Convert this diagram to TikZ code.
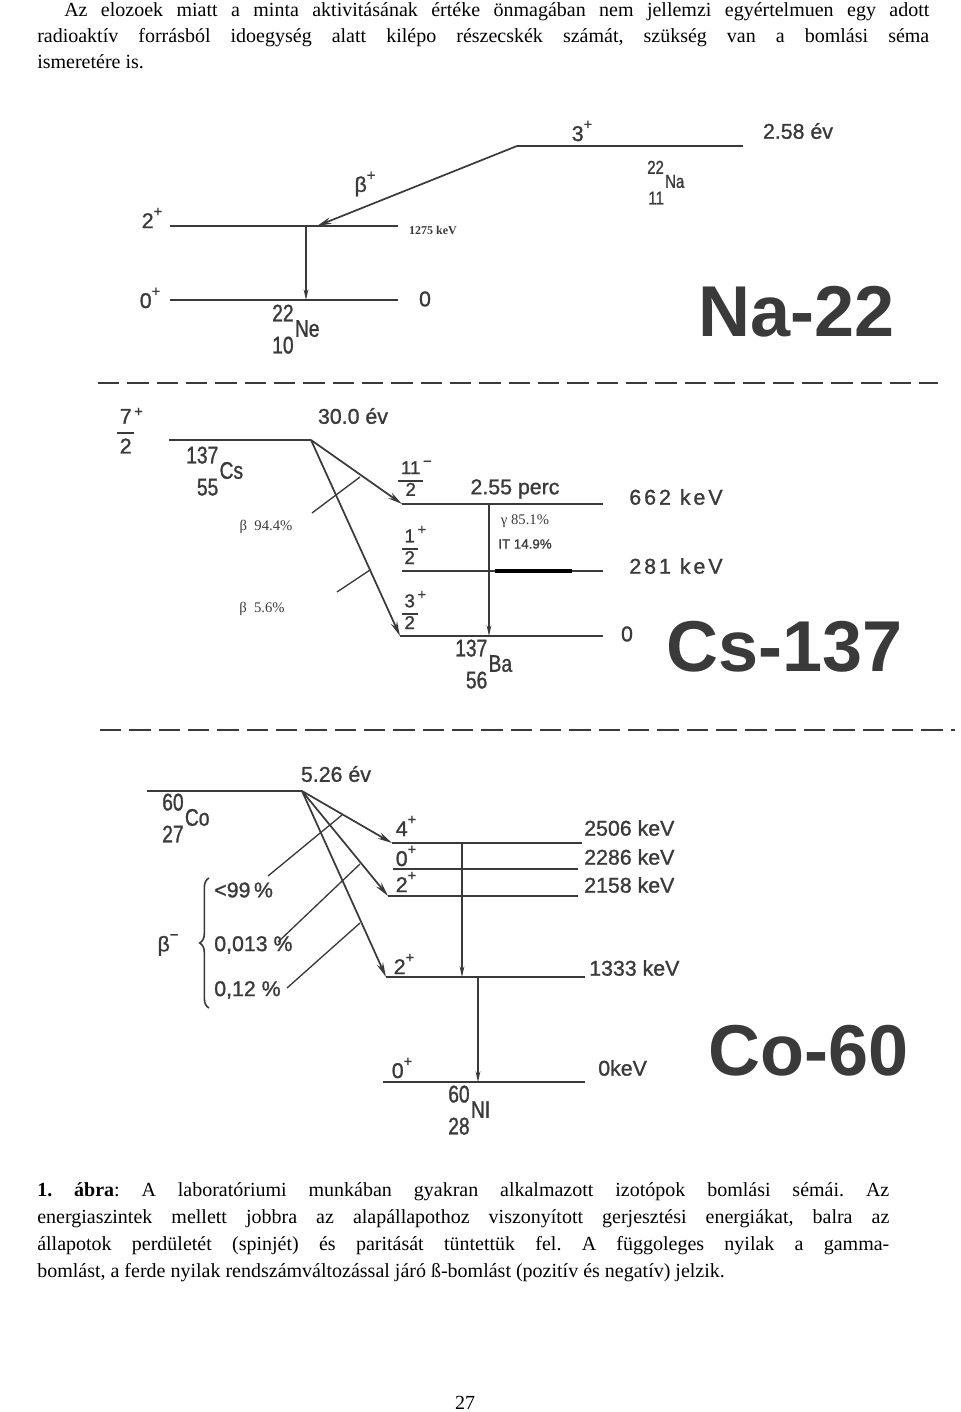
\documentclass[tikz,border=0pt]{standalone}
\usepackage{fontspec}
\setmainfont{Liberation Serif}
\newfontfamily\drawfont[FakeBold=1.2]{Liberation Sans}
\newfontfamily\narrowfont[FakeStretch=0.8,FakeBold=1.2]{Liberation Sans}
\newfontfamily\namefont{Liberation Sans}
\usetikzlibrary{arrows.meta,positioning,decorations.pathreplacing}
\definecolor{ink}{HTML}{3A3A3A}
\newcommand\parity[1]{\raisebox{0.55em}{\fontsize{11pt}{11pt}\selectfont #1}}
\newcommand\nuclide[3]{\begin{tabular}{@{}r@{}}#1\\#2\end{tabular}\kern1pt#3}
\newcommand\spinfrac[3]{{\setlength\arrayrulewidth{1.3pt}\begin{tabular}{@{\hspace{2pt}}c@{\hspace{2pt}}}#1\\\hline #2\end{tabular}}\raisebox{1.05em}{\fontsize{11pt}{11pt}\selectfont #3}}

\begin{document}
\begin{tikzpicture}[x=0.75pt,y=-0.75pt,
    level/.style={draw=ink, line width=1.5pt},
    beta/.style={draw=ink, line width=1.3pt, -{Stealth[length=11pt,width=5pt]}},
    gamma/.style={draw=ink, line width=0.9pt, -{Stealth[length=8pt,width=3.5pt]}},
    leader/.style={draw=ink, line width=1pt},
    sepline/.style={draw=ink, line width=1.5pt, dash pattern=on 16pt off 6pt},
    lab/.style={text=ink, font=\drawfont\fontsize{16pt}{19pt}\selectfont, inner sep=0pt},
    fraclab/.style={text=ink, font=\drawfont\fontsize{14pt}{15pt}\selectfont, inner sep=0pt},
    nuc/.style={text=ink, font=\narrowfont\fontsize{18pt}{24pt}\selectfont, inner sep=0pt, anchor=west},
    small/.style={text=ink, font=\fontsize{11pt}{13pt}\selectfont, inner sep=0pt},
    bigname/.style={text=ink, font=\namefont\bfseries\fontsize{54pt}{60pt}\selectfont, inner sep=0pt},
    body/.style={text=black, font=\fontsize{15pt}{19pt}\selectfont\frenchspacing, anchor=base west, inner sep=0pt}
]
    \useasboundingbox (0,0) rectangle (960,1412);

    % page text
    \node[body] (p1) at (64,17) {\makebox[648.75pt][s]{Az elozoek miatt a minta aktivitásának értéke önmagában nem jellemzi egyértelmuen egy adott}};
    \node[body] (p2) at (37,43) {\makebox[669pt][s]{radioaktív forrásból idoegység alatt kilépo részecskék számát, szükség van a bomlási séma}};
    \node[body] (p3) at (37,69) {ismeretére is.};

    % Na-22
    \coordinate (naL) at (517,146);
    \coordinate (naR) at (743,146);
    \coordinate (ne2L) at (170,226);
    \coordinate (ne2R) at (398,226);
    \coordinate (ne2b) at (317,226);
    \coordinate (ne2g) at (306,226);
    \coordinate (ne0L) at (170,300);
    \coordinate (ne0R) at (398,300);
    \coordinate (ne0g) at (306,300);
    \draw[level] (naL) -- (naR);
    \draw[beta] (naL) -- (ne2b);
    \draw[level] (ne2L) -- (ne2R);
    \draw[level] (ne0L) -- (ne0R);
    \draw[gamma] (ne2g) -- (ne0g);
    \node[lab] (na3) at (582,131) {3\parity{+}};
    \node[lab] (naE) at (798,131) {2.58 év};
    \node[nuc, font=\narrowfont\fontsize{14pt}{23pt}\selectfont] (naNuc) at (647,183) {\nuclide{22}{11}{Na}};
    \node[lab] (bplus) at (365,184) {β\parity{+}};
    \node[lab] (ne2s) at (152,218) {2\parity{+}};
    \node[small, font=\bfseries\fontsize{9pt}{11pt}\selectfont] (ne2E) at (433,230) {1275 keV};
    \node[lab] (ne0s) at (150,298) {0\parity{+}};
    \node[lab] (ne0E) at (425,299) {0};
    \node[nuc] (neNuc) at (272,331) {\nuclide{22}{10}{Ne}};
    \node[bigname] (naName) at (797,312) {Na-22};

    \coordinate (s1L) at (98,383);
    \coordinate (s1R) at (938,383);
    \draw[sepline] (s1L) -- (s1R);

    % Cs-137
    \coordinate (csL) at (169,440);
    \coordinate (csR) at (311,440);
    \coordinate (ba11L) at (402,504);
    \coordinate (ba11R) at (603,504);
    \coordinate (ba1L) at (402,571);
    \coordinate (ba1R) at (603,571);
    \coordinate (ba0L) at (400,636);
    \coordinate (ba0R) at (603,636);
    \coordinate (thickL) at (495,571);
    \coordinate (thickR) at (572,571);
    \coordinate (baG1) at (489,504);
    \coordinate (baG0) at (489,636);
    \coordinate (t1a) at (312,513);
    \coordinate (t1b) at (360,477);
    \coordinate (t2a) at (337,592);
    \coordinate (t2b) at (370,570);
    \draw[level] (csL) -- (csR);
    \draw[beta] (csR) -- (ba11L);
    \draw[beta] (csR) -- (ba0L);
    \draw[level] (ba11L) -- (ba11R);
    \draw[level] (ba1L) -- (ba1R);
    \draw[level] (ba0L) -- (ba0R);
    \draw[line width=3pt, black] (thickL) -- (thickR);
    \draw[gamma] (baG1) -- (baG0);
    \draw[leader] (t1a) -- (t1b);
    \draw[leader] (t2a) -- (t2b);
    \node[lab, font=\drawfont\fontsize{16pt}{21pt}\selectfont] (cs7) at (130,433) {\spinfrac{7}{2}{+}};
    \node[lab] (csE) at (353,416) {30.0 év};
    \node[nuc] (csNuc) at (186,473) {\nuclide{137}{55}{Cs}};
    \node[fraclab] (ba11s) at (415,481) {\spinfrac{11}{2}{−}};
    \node[lab] (ba11t) at (515,489) {2.55 perc};
    \node[lab, font=\drawfont\fontsize{16pt}{19pt}\selectfont\addfontfeature{LetterSpace=14}] (ba11E) at (676,497) {662 keV};
    \node[fraclab] (ba1s) at (414,548) {\spinfrac{1}{2}{+}};
    \node[lab, font=\drawfont\fontsize{16pt}{19pt}\selectfont\addfontfeature{LetterSpace=14}] (ba1E) at (676,566) {281 keV};
    \node[fraclab] (ba0s) at (414,613) {\spinfrac{3}{2}{+}};
    \node[lab] (ba0E) at (627,634) {0};
    \node[small] (gam) at (525,521) {γ 85.1\%};
    \node[small, font=\drawfont\fontsize{10pt}{12pt}\selectfont] (itr) at (525,544) {IT 14.9\%};
    \node[small] (b944) at (266,527) {β\ \ 94.4\%};
    \node[small] (b56) at (262,609) {β\ \ 5.6\%};
    \node[nuc] (baNuc) at (455,666) {\nuclide{137}{56}{Ba}};
    \node[bigname] (csName) at (785,647) {Cs-137};

    \coordinate (s2L) at (100,730);
    \coordinate (s2R) at (955,730);
    \draw[sepline] (s2L) -- (s2R);

    % Co-60
    \coordinate (coL) at (147,791);
    \coordinate (coR) at (302,791);
    \coordinate (ni4L) at (392,843);
    \coordinate (ni4R) at (582,843);
    \coordinate (ni0aL) at (393,869);
    \coordinate (ni0aR) at (578,869);
    \coordinate (ni2aL) at (388,896);
    \coordinate (ni2aR) at (578,896);
    \coordinate (ni2bL) at (386,977);
    \coordinate (ni2bR) at (585,977);
    \coordinate (ni0L) at (383,1082);
    \coordinate (ni0R) at (585,1082);
    \coordinate (g1a) at (462,843);
    \coordinate (g1b) at (462,977);
    \coordinate (g2a) at (478,977);
    \coordinate (g2b) at (478,1082);
    \coordinate (l1a) at (268,876);
    \coordinate (l1b) at (342,815);
    \coordinate (l2a) at (278,942);
    \coordinate (l2b) at (360,864);
    \coordinate (l3a) at (287,988);
    \coordinate (l3b) at (360,923);
    \coordinate (brB) at (209,1008);
    \coordinate (brT) at (209,878);
    \draw[level] (coL) -- (coR);
    \draw[beta] (coR) -- (ni4L);
    \draw[beta] (coR) -- (ni2aL);
    \draw[beta] (coR) -- (ni2bL);
    \draw[level] (ni4L) -- (ni4R);
    \draw[level] (ni0aL) -- (ni0aR);
    \draw[level] (ni2aL) -- (ni2aR);
    \draw[level] (ni2bL) -- (ni2bR);
    \draw[level] (ni0L) -- (ni0R);
    \draw[gamma] (g1a) -- (g1b);
    \draw[gamma] (g2a) -- (g2b);
    \draw[leader] (l1a) -- (l1b);
    \draw[leader] (l2a) -- (l2b);
    \draw[leader] (l3a) -- (l3b);
    \draw[draw=ink, line width=1.2pt, decorate, decoration={brace, amplitude=7pt}] (brB) -- (brT);
    \node[lab] (coE) at (336,774) {5.26 év};
    \node[nuc] (coNuc) at (162,820) {\nuclide{60}{27}{Co}};
    \node[lab] (ni4s) at (406,826) {4\parity{+}};
    \node[lab] (ni0as) at (406,856) {0\parity{+}};
    \node[lab] (ni2as) at (406,882) {2\parity{+}};
    \node[lab] (ni2bs) at (404,964) {2\parity{+}};
    \node[lab] (ni0s) at (402,1068) {0\parity{+}};
    \node[lab, anchor=west] (ni4E) at (584,828) {2506 keV};
    \node[lab, anchor=west] (ni0aE) at (584,857) {2286 keV};
    \node[lab, anchor=west] (ni2aE) at (584,885) {2158 keV};
    \node[lab, anchor=west] (ni2bE) at (589,968) {1333 keV};
    \node[lab, anchor=west] (ni0E) at (598,1068) {0keV};
    \node[lab] (betam) at (168,945) {β\parity{−}};
    \node[lab, anchor=west] (p99) at (214,890) {<99\,\%};
    \node[lab, anchor=west] (p0013) at (214,945) {0,013 \%};
    \node[lab, anchor=west] (p012) at (214,990) {0,12 \%};
    \node[nuc] (niNuc) at (448,1112) {\nuclide{60}{28}{NI}};
    \node[bigname] (coName) at (809,1051) {Co-60};

    % caption
    \node[body] (c1) at (37,1196) {\makebox[639pt][s]{\textbf{1. ábra}: A laboratóriumi munkában gyakran alkalmazott izotópok bomlási sémái. Az}};
    \node[body] (c2) at (37,1223) {\makebox[639pt][s]{energiaszintek mellett jobbra az alapállapothoz viszonyított gerjesztési energiákat, balra az}};
    \node[body] (c3) at (37,1250) {\makebox[639pt][s]{állapotok perdületét (spinjét) és paritását tüntettük fel. A függoleges nyilak a gamma-}};
    \node[body] (c4) at (37,1277) {bomlást, a ferde nyilak rendszámváltozással járó ß-bomlást (pozitív és negatív) jelzik.};
    \node[body, anchor=base] (pg) at (465,1409) {27};
\end{tikzpicture}
\end{document}
